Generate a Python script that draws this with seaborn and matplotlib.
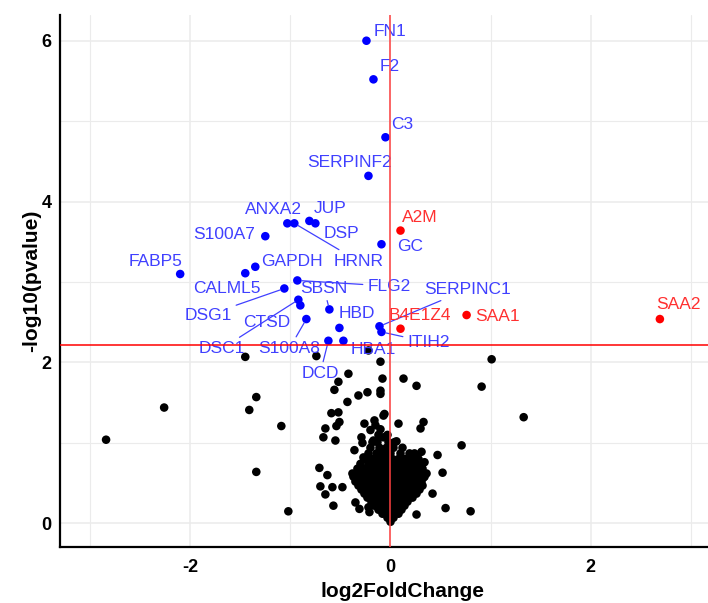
import matplotlib
matplotlib.use("Agg")
import matplotlib.pyplot as plt
from matplotlib.ticker import MultipleLocator
import seaborn as sns
import pandas as pd

# labelled proteins below the threshold side (blue)
blue_genes = ["FN1", "F2", "C3", "SERPINF2", "ANXA2", "HRNR", "JUP", "DSP",
              "S100A7", "GC", "FABP5", "GAPDH", "CALML5", "FLG2", "DSG1", "SBSN",
              "CTSD", "DSC1", "HBD", "S100A8", "DCD", "HBA1", "SERPINC1", "ITIH2"]
blue_fc = [-0.24, -0.17, -0.05, -0.22, -1.03, -0.96, -0.81, -0.75,
           -1.25, -0.09, -2.10, -1.35, -1.45, -0.93, -1.06, -0.61,
           -0.90, -0.92, -0.51, -0.84, -0.62, -0.47, -0.11, -0.09]
blue_p = [6.00, 5.52, 4.80, 4.32, 3.73, 3.73, 3.76, 3.73,
          3.57, 3.47, 3.10, 3.19, 3.11, 3.02, 2.92, 2.66,
          2.71, 2.78, 2.43, 2.54, 2.27, 2.27, 2.45, 2.38]

# labelled proteins, up side (red)
red_genes = ["A2M", "B4E1Z4", "SAA1", "SAA2"]
red_fc = [0.10, 0.10, 0.76, 2.69]
red_p = [3.64, 2.42, 2.59, 2.54]

# non significant proteins (black), outer points
black_fc = [-1.45, -0.74, 1.01, -0.10, -0.22, -0.42, -0.52, -0.56, -0.08, 0.13,
            0.26, 0.91, -1.34, -2.26, -1.41, -0.23, -0.32, -0.10, -0.10, -0.43,
            -0.59, -0.52, -1.09, -2.84, -0.65, -0.54, -0.51, -0.67, -0.55, 0.71,
            0.33, 0.30, 0.08, 0.06, 1.33, -1.34, -1.02, -0.71, -0.63, -0.70,
            -0.58, -0.48, -0.65, -0.57, -0.35, -0.31, -0.21, -0.22, 0.26, 0.55,
            0.80, 0.42, 0.52, 0.47, 0.34, 0.29, 0.34, 0.31, 0.26, -0.36,
            -0.37, -0.27, -0.26, -0.16, -0.07, -0.06, -0.17, -0.29, -0.28, -0.18,
            -0.07, -0.20, -0.15]
black_p = [2.07, 2.08, 2.04, 2.01, 2.15, 1.86, 1.76, 1.66, 1.80, 1.80,
           1.71, 1.70, 1.57, 1.44, 1.41, 1.63, 1.59, 1.65, 1.61, 1.51,
           1.37, 1.38, 1.21, 1.04, 1.18, 1.21, 1.26, 1.07, 1.03, 0.97,
           1.26, 1.18, 1.24, 1.02, 1.32, 0.64, 0.15, 0.69, 0.60, 0.46,
           0.45, 0.45, 0.36, 0.22, 0.26, 0.18, 0.14, 0.20, 0.11, 0.19,
           0.15, 0.37, 0.63, 0.85, 0.76, 0.47, 0.58, 0.89, 0.85, 0.91,
           0.58, 0.82, 1.24, 1.28, 1.34, 1.36, 1.03, 1.07, 1.00, 1.01,
           1.07, 1.16, 1.22]

# dense core of the cloud, read row by row (pvalue level -> fold changes)
core_rows = {
    0.02: [0.0],
    0.07: [-0.03, 0.03],
    0.12: [-0.08, -0.02, 0.03, 0.08],
    0.17: [-0.12, -0.06, 0.0, 0.06, 0.11],
    0.22: [-0.16, -0.10, -0.04, 0.02, 0.08, 0.14],
    0.27: [-0.19, -0.13, -0.07, -0.01, 0.05, 0.11, 0.17],
    0.32: [-0.23, -0.17, -0.11, -0.05, 0.01, 0.07, 0.13, 0.19, 0.22],
    0.37: [-0.26, -0.20, -0.14, -0.08, -0.02, 0.04, 0.10, 0.16, 0.22, 0.26],
    0.42: [-0.29, -0.23, -0.17, -0.11, -0.05, 0.01, 0.07, 0.13, 0.19, 0.25, 0.29],
    0.47: [-0.32, -0.26, -0.20, -0.14, -0.08, -0.02, 0.04, 0.10, 0.16, 0.22, 0.28, 0.32],
    0.52: [-0.35, -0.29, -0.23, -0.17, -0.11, -0.05, 0.01, 0.07, 0.13, 0.19, 0.25, 0.31],
    0.57: [-0.34, -0.27, -0.21, -0.15, -0.09, -0.03, 0.03, 0.09, 0.15, 0.21, 0.27, 0.33],
    0.62: [-0.38, -0.31, -0.25, -0.19, -0.13, -0.06, 0.0, 0.06, 0.12, 0.18, 0.24, 0.30, 0.36],
    0.68: [-0.33, -0.26, -0.20, -0.13, -0.07, -0.01, 0.05, 0.11, 0.18, 0.25, 0.32],
    0.74: [-0.30, -0.22, -0.15, -0.09, -0.02, 0.04, 0.10, 0.17, 0.24, 0.30],
    0.80: [-0.25, -0.18, -0.11, -0.05, 0.02, 0.08, 0.15, 0.21, 0.28],
    0.87: [-0.22, -0.14, -0.07, 0.0, 0.10, 0.19, 0.24],
    0.94: [-0.20, -0.11, -0.04, 0.03, 0.12],
    1.01: [-0.13, -0.02, 0.04],
    1.10: [-0.12, -0.03],
    1.17: [-0.10],
}

p_cut = 2.22

# label placement (left edge, vertical centre) and whether ggrepel drew a segment
label_pos = {
    "FN1": (-0.17, 6.11, False), "F2": (-0.11, 5.68, False), "C3": (0.01, 4.96, False),
    "SERPINF2": (-0.83, 4.49, False), "ANXA2": (-1.45, 3.90, False),
    "HRNR": (-0.57, 3.26, True), "JUP": (-0.77, 3.91, False), "DSP": (-0.67, 3.60, False),
    "S100A7": (-1.97, 3.59, False), "GC": (0.07, 3.44, False), "FABP5": (-2.61, 3.26, False),
    "GAPDH": (-1.29, 3.26, False), "CALML5": (-1.97, 2.92, False), "FLG2": (-0.23, 2.95, True),
    "DSG1": (-2.06, 2.59, True), "SBSN": (-0.90, 2.92, True), "CTSD": (-1.47, 2.50, False),
    "DSC1": (-1.92, 2.17, True), "HBD": (-0.52, 2.61, False), "S100A8": (-1.32, 2.17, True),
    "DCD": (-0.89, 1.86, True), "HBA1": (-0.40, 2.16, False), "SERPINC1": (0.34, 2.91, True),
    "ITIH2": (0.17, 2.25, True),
    "A2M": (0.11, 3.80, False), "B4E1Z4": (-0.02, 2.59, False), "SAA1": (0.85, 2.57, False),
    "SAA2": (2.65, 2.72, False),
}

core_fc = [x for yv, xs in core_rows.items() for x in xs]
core_p = [yv for yv, xs in core_rows.items() for x in xs]

df = pd.concat([
    pd.DataFrame({"log2FoldChange": black_fc + core_fc, "p": black_p + core_p, "group": "ns"}),
    pd.DataFrame({"log2FoldChange": blue_fc, "p": blue_p, "group": "down", "gene": blue_genes}),
    pd.DataFrame({"log2FoldChange": red_fc, "p": red_p, "group": "up", "gene": red_genes}),
], ignore_index=True)

sns.set_style("whitegrid")
plt.rcParams["font.family"] = ["Liberation Sans", "DejaVu Sans"]
plt.rcParams["axes.unicode_minus"] = False

fig = plt.figure(figsize=(7.08, 6.03), dpi=100)
ax = fig.add_axes([60 / 708, 1 - 546.7 / 603, 685 / 708, (546.7 - 15) / 603])

sns.scatterplot(data=df, x="log2FoldChange", y="p", hue="group",
                palette={"ns": "black", "down": "blue", "up": "red"},
                s=38, edgecolor="none", linewidth=0, legend=False, ax=ax, zorder=3)

text_col = {"down": "#4040FF", "up": "#FF3030"}
for _, row in df[df.group != "ns"].iterrows():
    tx, ty, seg = label_pos[row.gene]
    c = text_col[row.group]
    if seg:
        ax.annotate(row.gene, xy=(row.log2FoldChange, row.p), xytext=(tx, ty),
                    ha="left", va="center", fontsize=12.5, color=c, zorder=4,
                    arrowprops=dict(arrowstyle="-", color=c, lw=0.9,
                                    shrinkA=1, shrinkB=3))
    else:
        ax.text(tx, ty, row.gene, ha="left", va="center", fontsize=12.5, color=c, zorder=4)

ax.axhline(p_cut, color="red", lw=1.1, zorder=5)
ax.axvline(0, color="#FF4040", lw=1.1, zorder=5)

ax.set_xlim(-3.30, 3.54)
ax.set_ylim(-0.29, 6.32)
ax.xaxis.set_major_locator(MultipleLocator(2))
ax.xaxis.set_minor_locator(MultipleLocator(1))
ax.yaxis.set_major_locator(MultipleLocator(2))
ax.yaxis.set_minor_locator(MultipleLocator(1))
ax.grid(which="major", color="#EBEBEB", lw=1.1)
ax.grid(which="minor", color="#EBEBEB", lw=0.8)
ax.set_axisbelow(True)
ax.set_facecolor("white")

for side in ["top", "right"]:
    ax.spines[side].set_visible(False)
for side in ["left", "bottom"]:
    ax.spines[side].set_color("black")
    ax.spines[side].set_linewidth(1.6)

ax.tick_params(axis="both", which="both", length=0, labelsize=13, labelcolor="black")
ax.tick_params(axis="x", pad=9)
ax.tick_params(axis="y", pad=6)
for lab in ax.get_xticklabels() + ax.get_yticklabels():
    lab.set_fontweight("bold")

ax.set_xlabel("log2FoldChange", fontsize=15, fontweight="bold", labelpad=4, color="black")
ax.set_ylabel("-log10(pvalue)", fontsize=15, fontweight="bold", labelpad=0, color="black")

fig.savefig("out.png", dpi=100)
